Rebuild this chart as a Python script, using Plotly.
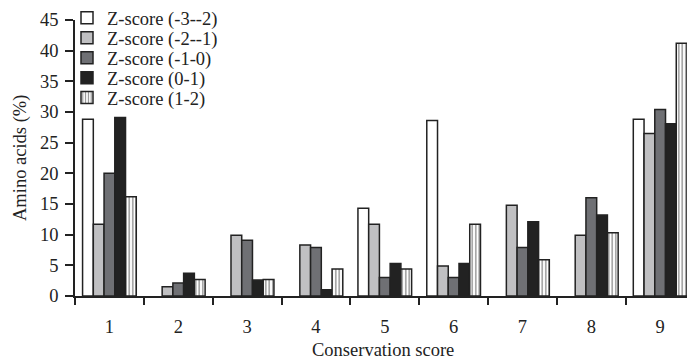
import plotly.graph_objects as go

categories = [1, 2, 3, 4, 5, 6, 7, 8, 9]
series_names = ["Z-score (-3--2)", "Z-score (-2--1)", "Z-score (-1-0)", "Z-score (0-1)", "Z-score (1-2)"]
# None = no bar drawn in the reference
z_m3_m2 = [28.8, None, None, None, 14.3, 28.6, None, None, 28.8]
z_m2_m1 = [11.7, 1.5, 9.9, 8.3, 11.7, 4.9, 14.8, 9.9, 26.5]
z_m1_0 = [20.0, 2.1, 9.1, 7.9, 3.0, 3.0, 7.9, 16.0, 30.4]
z_0_1 = [29.1, 3.7, 2.6, 1.0, 5.3, 5.3, 12.1, 13.2, 28.1]
z_1_2 = [16.2, 2.7, 2.7, 4.4, 4.4, 11.7, 5.9, 10.3, 41.2]
y_ticks = [0, 5, 10, 15, 20, 25, 30, 35, 40, 45]

values = [z_m3_m2, z_m2_m1, z_m1_0, z_0_1, z_1_2]
fills = ["#ffffff", "#c0c0c2", "#6f7074", "#222222", "#ffffff"]

FONT = "Liberation Serif"
FS = 18.5
W, H = 687, 360
ML, MR, MT, MB = 75, 0, 20, 64
PW, PH = W - ML - MR, H - MT - MB

fig = go.Figure()
legend_ids = ["legend", "legend2", "legend3", "legend4", "legend5"]
for i, (name, vals) in enumerate(zip(series_names, values)):
    marker = dict(color=fills[i], line=dict(color="#222222", width=1.5))
    if i == 4:
        marker["pattern"] = dict(shape="|", fgcolor="#222222", bgcolor="#ffffff",
                                 size=3.5, solidity=0.4, fillmode="overlay")
    fig.add_trace(go.Bar(x=categories, y=vals, name=name, marker=marker,
                         legend=legend_ids[i]))

# one legend row per series so rows sit as tightly as in the reference
row_centers_px = [18.3, 38.3, 58.2, 78.1, 98.0]
legend_layout = {}
for lid, cy in zip(legend_ids, row_centers_px):
    legend_layout[lid] = dict(
        x=(67 - ML) / PW, xanchor="left",
        y=1 - (cy - MT) / PH, yanchor="middle",
        bgcolor="rgba(0,0,0,0)", borderwidth=0,
        font=dict(family=FONT, size=FS, color="#222222"),
    )

fig.update_layout(
    width=W, height=H,
    margin=dict(l=ML, r=MR, t=MT, b=MB, autoexpand=False),
    paper_bgcolor="white", plot_bgcolor="white",
    barmode="group", bargap=0.22, bargroupgap=0,
    font=dict(family=FONT, size=FS, color="#222222"),
    showlegend=True,
    **legend_layout,
)
fig.update_xaxes(
    range=[0.5, 9.39], tickmode="array", tickvals=categories,
    ticktext=[str(c) for c in categories], ticks="", showgrid=False,
    showline=True, linecolor="#222222", linewidth=1.5, zeroline=False,
    automargin=False, ticklabelstandoff=13,
    minor=dict(tickvals=[c - 0.5 for c in categories] + [9.5], ticks="outside",
               ticklen=7, tickcolor="#222222", tickwidth=1.5, showgrid=False),
)
fig.update_yaxes(
    range=[0, 45], tickmode="array", tickvals=y_ticks, ticks="outside",
    ticklen=8, tickwidth=1.5, tickcolor="#222222", showgrid=False,
    showline=True, linecolor="#222222", linewidth=1.5, zeroline=False,
    automargin=False, ticklabelstandoff=3,
)
fig.add_annotation(text="Amino acids (%)", xref="paper", yref="paper",
                   x=(20 - ML) / PW, y=0.5, xanchor="center", yanchor="middle",
                   textangle=-90, showarrow=False, font=dict(family=FONT, size=FS))
fig.add_annotation(text="Conservation score", xref="paper", yref="paper",
                   x=(383 - ML) / PW, y=(MT + PH - 350) / PH, xanchor="center",
                   yanchor="middle", showarrow=False, font=dict(family=FONT, size=FS))
fig.write_html("out.html", config={"displayModeBar": False},
               post_script="document.body.style.margin='0';document.body.style.overflow='hidden';")
